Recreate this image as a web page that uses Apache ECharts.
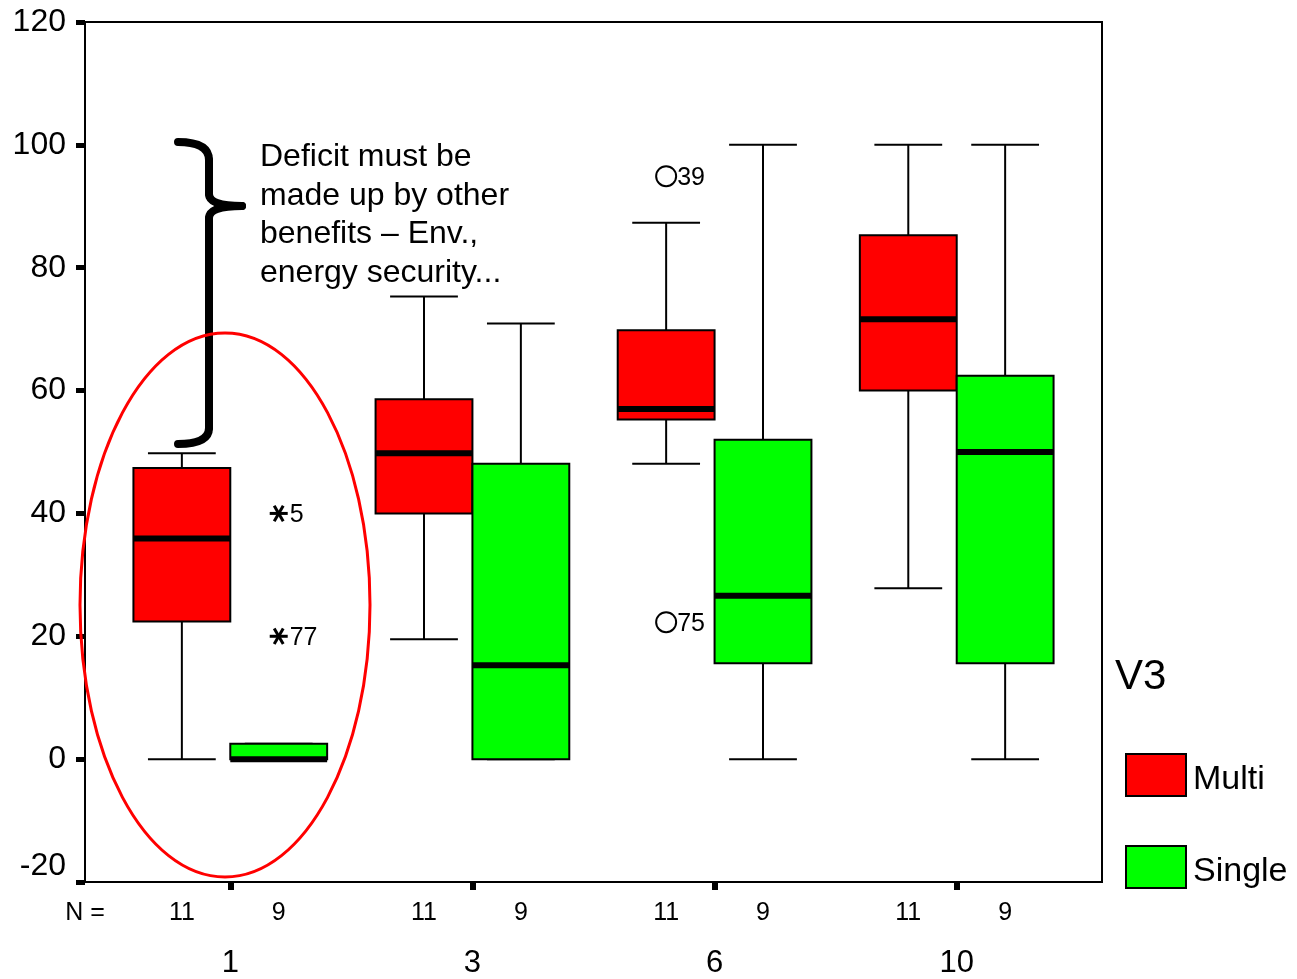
<!DOCTYPE html>
<html>
<head>
<meta charset="utf-8">
<script src="https://cdn.jsdelivr.net/npm/echarts@6/dist/echarts.min.js"></script>
<style>
  html, body { margin: 0; padding: 0; background: #fff; }
  #chart { width: 1297px; height: 979px; }
</style>
</head>
<body>
<div id="chart"></div>
<script>
// V3 groups on the x axis
const categories = ['1', '3', '6', '10']
const seriesNames = ['Multi', 'Single']
// [low whisker, Q1, median, Q3, high whisker]
const multiStats = [
  [0, 22.4, 35.9, 47.4, 49.8],
  [19.5, 40, 49.8, 58.6, 75.3],
  [48.1, 55.3, 57, 69.8, 87.3],
  [27.8, 60, 71.6, 85.3, 100]
]
const singleStats = [
  [0, 0, 0, 2.5, 2.5],
  [0, 0, 15.3, 48.1, 70.9],
  [0, 15.6, 26.6, 52, 100],
  [0, 15.6, 50, 62.4, 100]
]
const multiN = [11, 11, 11, 11]
const singleN = [9, 9, 9, 9]
// outliers / extremes
const outlierGroup = [0, 0, 2, 2]
const outlierSeries = ['Single', 'Single', 'Multi', 'Multi']
const outlierValue = [40, 20, 94.9, 22.3]
const outlierCase = ['5', '77', '39', '75']
const outlierKind = ['extreme', 'extreme', 'outlier', 'outlier']

const FONT = 'Liberation Sans, Arial, sans-serif'
const RED = '#ff0000'
const GREEN = '#00ff00'
const BOX_W = 0.4
const OFFSET = { Multi: -0.2, Single: 0.2 }

const chart = echarts.init(document.getElementById('chart'))

// 箱体绘制
const renderBox = (params, api) => {
  const x = api.value(0)
  const pLow = api.coord([x, api.value(1)])
  const pQ1 = api.coord([x, api.value(2)])
  const pMed = api.coord([x, api.value(3)])
  const pQ3 = api.coord([x, api.value(4)])
  const pHigh = api.coord([x, api.value(5)])
  const w = api.size([BOX_W, 0])[0]
  const cap = w * 0.35
  const cx = pMed[0]
  const line = (x1, y1, x2, y2, lw) => ({
    type: 'line',
    shape: { x1, y1, x2, y2 },
    style: { stroke: '#000', lineWidth: lw }
  })
  const fill = params.seriesName === 'Multi' ? RED : GREEN
  return {
    type: 'group',
    children: [
      line(cx, pQ3[1], cx, pHigh[1], 2),
      line(cx, pQ1[1], cx, pLow[1], 2),
      line(cx - cap, pHigh[1], cx + cap, pHigh[1], 2),
      line(cx - cap, pLow[1], cx + cap, pLow[1], 2),
      {
        type: 'rect',
        shape: { x: cx - w / 2, y: pQ3[1], width: w, height: pQ1[1] - pQ3[1] },
        style: { fill, stroke: '#000', lineWidth: 2 }
      },
      line(cx - w / 2, pMed[1], cx + w / 2, pMed[1], 6)
    ]
  }
}

// 离群点
const renderOutlier = (params, api) => {
  const p = api.coord([api.value(0), api.value(1)])
  const i = params.dataIndex
  const children = []
  if (outlierKind[i] === 'outlier') {
    children.push({
      type: 'circle',
      shape: { cx: p[0], cy: p[1], r: 10 },
      style: { fill: 'none', stroke: '#000', lineWidth: 2 }
    })
  } else {
    const r = 9
    ;[0, 60, 120].forEach((deg) => {
      const a = (deg * Math.PI) / 180
      children.push({
        type: 'line',
        shape: {
          x1: p[0] - r * Math.cos(a), y1: p[1] - r * Math.sin(a),
          x2: p[0] + r * Math.cos(a), y2: p[1] + r * Math.sin(a)
        },
        style: { stroke: '#000', lineWidth: 3 }
      })
    })
  }
  children.push({
    type: 'text',
    style: {
      x: p[0] + 11, y: p[1] + 2,
      text: outlierCase[i],
      font: '25px ' + FONT,
      fill: '#000',
      verticalAlign: 'middle',
      align: 'left'
    }
  })
  return { type: 'group', children }
}

const boxData = (stats, name) =>
  stats.map((s, i) => [i + OFFSET[name], ...s])

const countValues = [-0.6]
const countLabels = { '-0.6': 'N =' }
categories.forEach((c, i) => {
  countValues.push(i - 0.2, i + 0.2)
  countLabels[(i - 0.2).toFixed(1)] = String(multiN[i])
  countLabels[(i + 0.2).toFixed(1)] = String(singleN[i])
})

// 花括号
const braceStyle = { fill: 'none', stroke: '#000', lineWidth: 8, lineCap: 'round' }
const curve = (x1, y1, cpx1, cpy1, x2, y2) => ({
  type: 'bezierCurve', shape: { x1, y1, cpx1, cpy1, x2, y2 }, style: braceStyle
})
const seg = (x1, y1, x2, y2) => ({ type: 'line', shape: { x1, y1, x2, y2 }, style: braceStyle })

const options = {
  backgroundColor: '#fff',
  animation: false,
  textStyle: { fontFamily: FONT },
  title: {
    text: 'V3',
    left: 1115,
    top: 656,
    padding: 0,
    textStyle: { fontSize: 42, fontWeight: 'normal', color: '#000', fontFamily: FONT }
  },
  legend: {
    orient: 'vertical',
    left: 1125,
    top: 753,
    padding: 0,
    itemWidth: 60,
    itemHeight: 42,
    itemGap: 48,
    formatter: (name) => '{t|' + name + '}',
    textStyle: {
      fontSize: 34, color: '#000', fontFamily: FONT,
      rich: { t: { fontSize: 34, color: '#000', fontFamily: FONT, padding: [10, 0, 0, 2] } }
    },
    data: [
      { name: 'Multi', icon: 'rect', itemStyle: { color: RED, borderColor: '#000', borderWidth: 2 } },
      { name: 'Single', icon: 'rect', itemStyle: { color: GREEN, borderColor: '#000', borderWidth: 2 } }
    ]
  },
  grid: {
    left: 85, top: 22, right: 195, bottom: 95,
    show: true, borderColor: '#000', borderWidth: 2
  },
  xAxis: [
    {
      type: 'value', min: -0.6, max: 3.6,
      splitLine: { show: false },
      axisLine: { show: true, onZero: false, lineStyle: { color: '#000', width: 2 } },
      axisTick: { show: true, customValues: [0, 1, 2, 3], length: 8, lineStyle: { color: '#000', width: 6 } },
      axisLabel: {
        customValues: [0, 1, 2, 3],
        formatter: (v) => categories[Math.round(v)],
        margin: 66, fontSize: 31, color: '#000', fontFamily: FONT
      }
    },
    {
      type: 'value', min: -0.6, max: 3.6, position: 'bottom',
      splitLine: { show: false },
      axisLine: { show: false, onZero: false },
      axisTick: { show: false },
      axisLabel: {
        customValues: countValues,
        formatter: (v) => countLabels[v.toFixed(1)] || '',
        margin: 19, fontSize: 25, color: '#000', fontFamily: FONT
      }
    }
  ],
  yAxis: {
    type: 'value', min: -20, max: 120, interval: 20,
    splitLine: { show: false },
    axisLine: { show: true, onZero: false, lineStyle: { color: '#000', width: 2 } },
    axisTick: { show: true, length: 9, lineStyle: { color: '#000', width: 5 } },
    axisLabel: {
      margin: 19, fontSize: 32, color: '#000', fontFamily: FONT,
      formatter: (v) => (v === -20 ? '{up|-20}' : String(v)),
      rich: { up: { fontSize: 32, color: '#000', fontFamily: FONT, padding: [0, 0, 32, 0] } }
    }
  },
  series: [
    {
      name: 'Multi', type: 'custom', xAxisIndex: 0, itemStyle: { color: RED },
      renderItem: renderBox, encode: { x: 0, y: [1, 2, 3, 4, 5] },
      data: boxData(multiStats, 'Multi'), z: 3
    },
    {
      name: 'Single', type: 'custom', xAxisIndex: 0, itemStyle: { color: GREEN },
      renderItem: renderBox, encode: { x: 0, y: [1, 2, 3, 4, 5] },
      data: boxData(singleStats, 'Single'), z: 3
    },
    {
      name: 'outliers', type: 'custom', xAxisIndex: 0,
      renderItem: renderOutlier, encode: { x: 0, y: 1 },
      data: outlierValue.map((v, i) => [outlierGroup[i] + OFFSET[outlierSeries[i]], v]), z: 4
    }
  ],
  graphic: [
    {
      type: 'ellipse', z: 10,
      shape: { cx: 225, cy: 605, rx: 145, ry: 272 },
      style: { fill: 'none', stroke: RED, lineWidth: 3 }
    },
    {
      type: 'group', z: 10,
      children: [
        curve(178, 142, 209, 142, 209, 160),
        seg(209, 160, 209, 194),
        curve(209, 194, 209, 206, 242, 206),
        curve(242, 206, 209, 206, 209, 218),
        seg(209, 218, 209, 428),
        curve(209, 428, 209, 444, 178, 444)
      ]
    },
    {
      type: 'text', z: 10, left: 260, top: 138,
      style: {
        text: 'Deficit must be\nmade up by other\nbenefits \u2013 Env.,\nenergy security...',
        font: '32px ' + FONT, fill: '#000', lineHeight: 38.5
      }
    }
  ]
}

chart.setOption(options)
</script>
</body>
</html>
